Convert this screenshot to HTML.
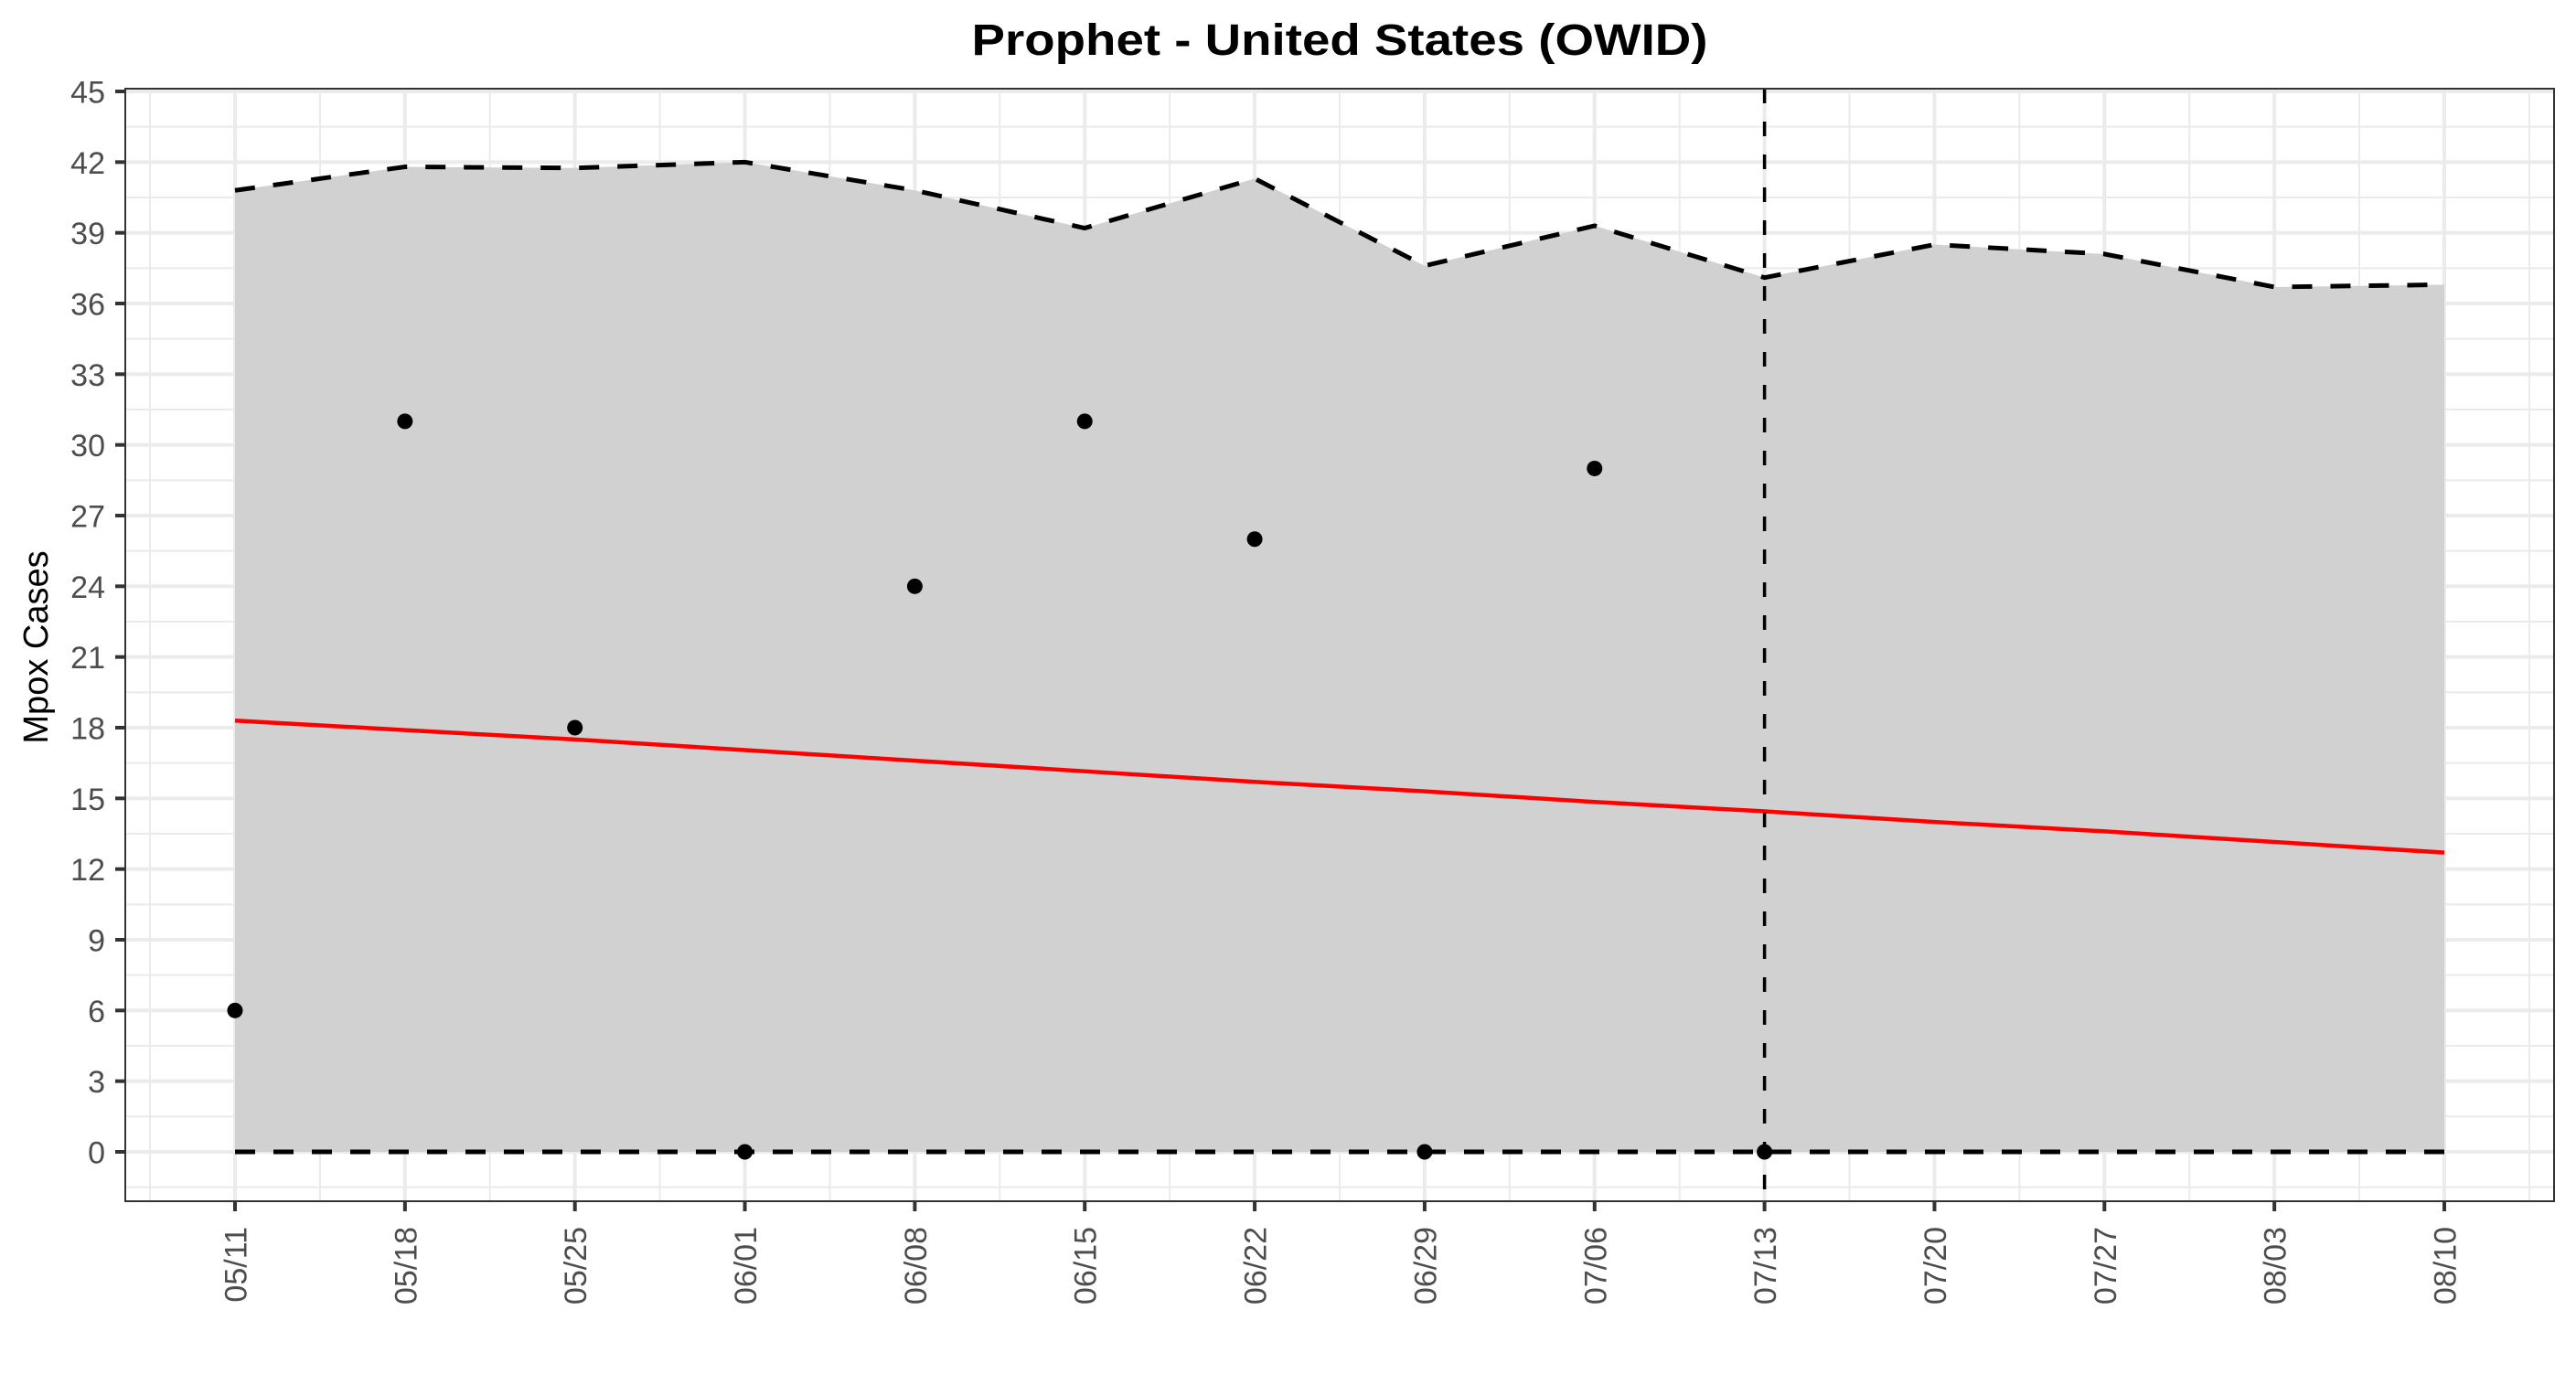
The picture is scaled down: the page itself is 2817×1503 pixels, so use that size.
<!DOCTYPE html>
<html><head><meta charset="utf-8"><style>html,body{margin:0;padding:0;background:#fff}svg{display:block}</style></head>
<body>
<svg id="chart" width="2817" height="1503" viewBox="0 0 2817 1503" xmlns="http://www.w3.org/2000/svg">
<rect width="2817" height="1503" fill="#fff"/>
<g id="grid"></g>
<g id="marks"></g>
<g id="axes"></g>
<text x="1465" y="60" text-anchor="middle" font-family="Liberation Sans, sans-serif" font-weight="bold" font-size="48" textLength="805" lengthAdjust="spacingAndGlyphs" fill="#000">Prophet - United States (OWID)</text>
<text transform="translate(52,708) rotate(-90)" text-anchor="middle" font-family="Liberation Sans, sans-serif" font-size="38" fill="#000">Mpox Cases</text>
</svg>
<script>
const dates = ["05/11","05/18","05/25","06/01","06/08","06/15","06/22","06/29","07/06","07/13","07/20","07/27","08/03","08/10"];
const upper = [40.8,41.8,41.75,42.0,40.8,39.2,41.3,37.6,39.3,37.1,38.5,38.1,36.7,36.8];
const lower = [0,0,0,0,0,0,0,0,0,0,0,0,0,0];
const forecast = [18.3,17.9,17.5,17.05,16.6,16.15,15.7,15.3,14.85,14.45,14.0,13.6,13.15,12.7];
const observed = [6,31,18,0,24,31,26,0,29,0];
const yTicks = [0,3,6,9,12,15,18,21,24,27,30,33,36,39,42,45];
const cutoffIndex = 9;

const NS = "http://www.w3.org/2000/svg";
const L = 137, R = 2793, T = 97, B = 1314;
const x0 = 257, dx = (2673 - 257) / 13;
const y0 = 1260, dy = (1260 - 100) / 45;
const X = i => x0 + i * dx;
const Y = v => y0 - v * dy;
function mk(parent, tag, attrs) {
  const e = document.createElementNS(NS, tag);
  for (const k in attrs) e.setAttribute(k, attrs[k]);
  document.getElementById(parent).appendChild(e);
  return e;
}
for (let v = -1.5; v <= 46.5; v += 1.5) {
  const y = Y(v);
  if (y < T || y > B) continue;
  const major = Math.abs(v / 3 - Math.round(v / 3)) < 1e-6;
  const g = mk("grid", "line", {x1: L, x2: R, y1: y, y2: y, stroke: "#ebebeb", "stroke-width": major ? 4 : 2});
  
  
}
for (let i = -0.5; i <= 14; i += 0.5) {
  const x = X(i);
  if (x < L || x > R) continue;
  const major = Number.isInteger(i) && i < dates.length;
  const g = mk("grid", "line", {x1: x, x2: x, y1: T, y2: B, stroke: "#ebebeb", "stroke-width": major ? 4 : 2});
  
  
}
let pts = upper.map((v, i) => X(i) + "," + Y(v));
for (let i = lower.length - 1; i >= 0; i--) pts.push(X(i) + "," + Y(lower[i]));
const band = mk("marks", "polygon", {points: pts.join(" "), fill: "#d1d1d1"});


const up = mk("marks", "polyline", {points: upper.map((v, i) => X(i) + "," + Y(v)).join(" "), fill: "none", stroke: "#000", "stroke-width": 5, "stroke-dasharray": "22 20"});


const lo = mk("marks", "polyline", {points: lower.map((v, i) => X(i) + "," + Y(v)).join(" "), fill: "none", stroke: "#000", "stroke-width": 5, "stroke-dasharray": "22 20"});


const fc = mk("marks", "polyline", {points: forecast.map((v, i) => X(i) + "," + Y(v)).join(" "), fill: "none", stroke: "#ff0000", "stroke-width": 4.5});


const vl = mk("marks", "line", {x1: X(cutoffIndex), x2: X(cutoffIndex), y1: T, y2: B, stroke: "#000", "stroke-width": 3.5, "stroke-dasharray": "16 20"});


observed.forEach((v, i) => {
  const c = mk("marks", "circle", {cx: X(i), cy: Y(v), r: 8.5, fill: "#000"});
  
  
});
const frame = mk("axes", "rect", {x: L, y: T, width: R - L, height: B - T, fill: "none", stroke: "#333", "stroke-width": 2});


yTicks.forEach(v => {
  const y = Y(v);
  const t = mk("axes", "line", {x1: L - 11, x2: L, y1: y, y2: y, stroke: "#333", "stroke-width": 4});
  
  
  const lb = mk("axes", "text", {x: L - 22, y: y + 12.5, "text-anchor": "end", "font-family": "Liberation Sans, sans-serif", "font-size": 34, fill: "#4d4d4d"});
  lb.textContent = v;
  
  
});
dates.forEach((d, i) => {
  const x = X(i);
  const t = mk("axes", "line", {x1: x, x2: x, y1: B, y2: B + 11, stroke: "#333", "stroke-width": 4});
  
  
  const lb = mk("axes", "text", {transform: `translate(${x + 12.5},${B + 28}) rotate(-90)`, "text-anchor": "end", "font-family": "Liberation Sans, sans-serif", "font-size": 34, fill: "#4d4d4d"});
  lb.textContent = d;
  
  
});
</script>
</body></html>
